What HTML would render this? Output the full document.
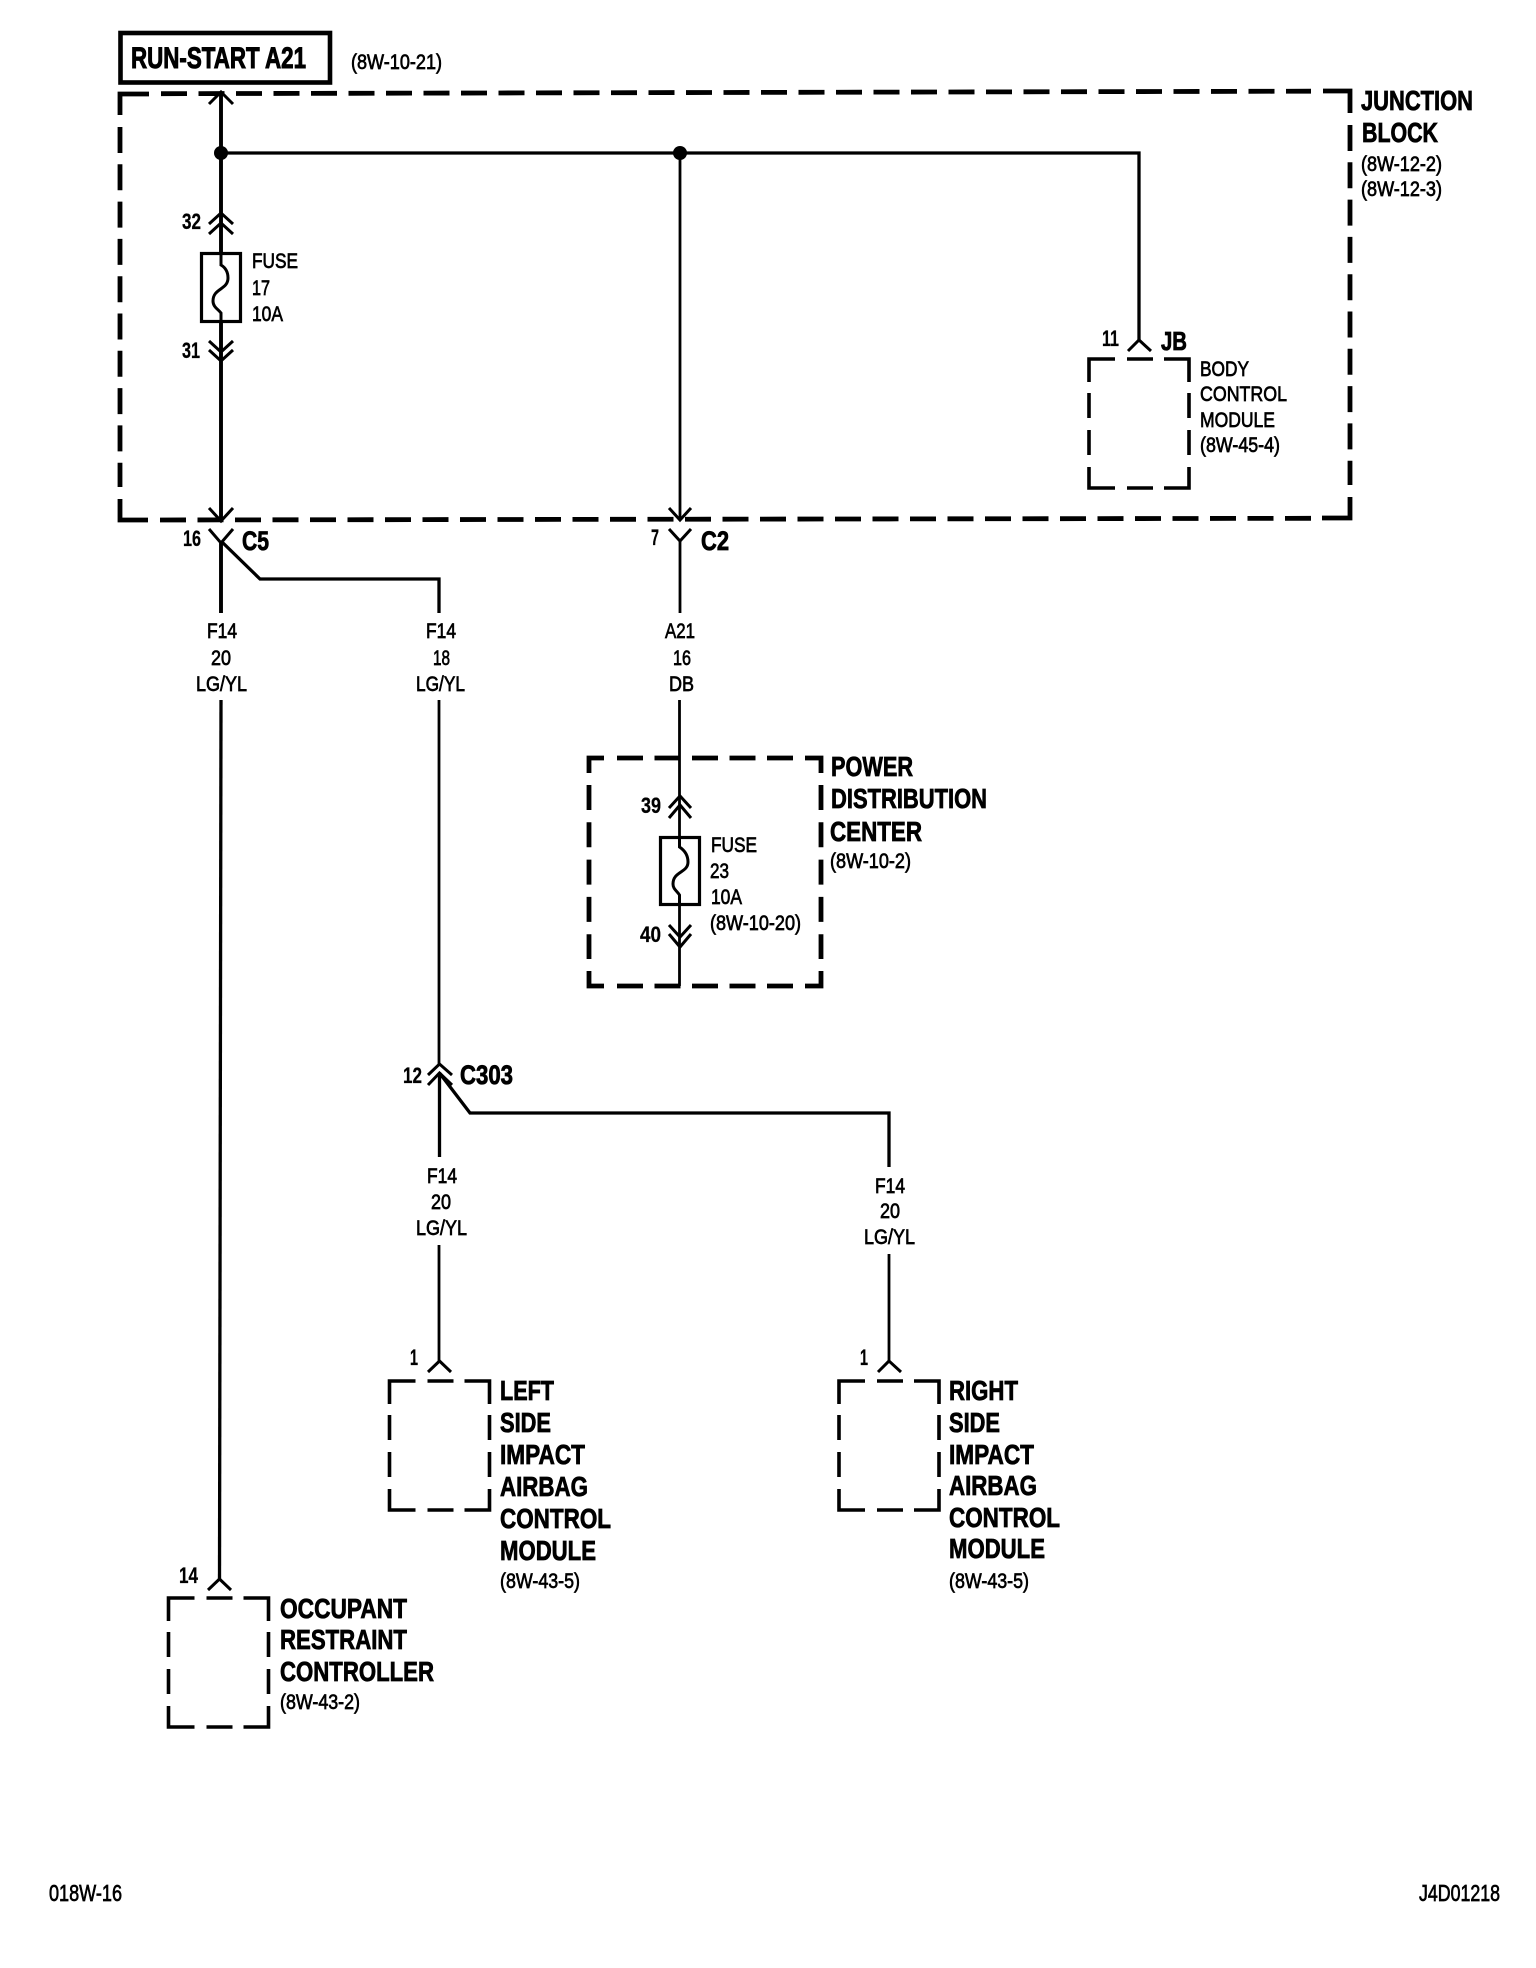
<!DOCTYPE html>
<html>
<head>
<meta charset="utf-8">
<style>
html,body{margin:0;padding:0;background:#fff;width:1536px;height:1968px;overflow:hidden}
svg{display:block}
text{font-family:"Liberation Sans",sans-serif;fill:#000;stroke:#000;stroke-width:.7px}
.b{font-weight:700;font-size:28px;stroke-width:.8px}
.r{font-size:21px}
.n{font-size:22px;font-weight:700;stroke-width:.3px}
.w{fill:none;stroke:#000;stroke-width:3.3}
.x{fill:none;stroke:#000;stroke-width:3.9}
.t{fill:none;stroke:#000;stroke-width:2.8}
.c{fill:none;stroke:#000;stroke-width:3}
.d{fill:none;stroke:#000;stroke-width:4.8}
.m{fill:none;stroke:#000;stroke-width:3.6}
</style>
</head>
<body>
<svg width="1536" height="1968" viewBox="0 0 1536 1968" xmlns="http://www.w3.org/2000/svg">
<defs>
<path id="mod" class="m" d="M0 23V0H26M38 0H64M75 0H100V23M0 34V59M0 71V96M0 108V129H26M38 129H64M75 129H100V108M100 34V59M100 71V96"/>
</defs>
<rect x="120.5" y="33" width="209.5" height="49.5" fill="none" stroke="#000" stroke-width="4.6"/>
<text class="b" x="131" y="68" style="font-size:30px;stroke-width:1px" textLength="175" lengthAdjust="spacingAndGlyphs">RUN-START A21</text>
<text class="r" x="351" y="69" textLength="91" lengthAdjust="spacingAndGlyphs">(8W-10-21)</text>

<!-- junction block dashed box -->
<path class="d" d="M120 115V94H149M1323 91H1350V113M120 499V520H148M1322 518H1350V497"/>
<path class="d" d="M161 93.7L1311 91.2M160 520L1311 518.3" stroke-dasharray="26 11.5"/>
<path class="d" d="M120 127V487M1350 125V485" stroke-dasharray="26 11.3"/>

<text class="b" x="1361" y="110" textLength="112" lengthAdjust="spacingAndGlyphs">JUNCTION</text>
<text class="b" x="1362" y="142" textLength="76" lengthAdjust="spacingAndGlyphs">BLOCK</text>
<text class="r" x="1361" y="171" textLength="81" lengthAdjust="spacingAndGlyphs">(8W-12-2)</text>
<text class="r" x="1361" y="196" textLength="81" lengthAdjust="spacingAndGlyphs">(8W-12-3)</text>

<!-- main feed -->
<path class="x" d="M221 94V252M221 323V521"/>
<path class="c" d="M209 104L221 92L233 104"/>
<circle cx="221" cy="153" r="7"/>
<circle cx="680" cy="153" r="7"/>
<path class="w" d="M221 153H1139V340"/>
<path class="t" d="M680 153V519"/>

<!-- fuse 17 -->
<path class="c" d="M209 224L221 213L233 224M209 234L221 223L233 234"/>
<rect x="201.5" y="253.5" width="39" height="68" fill="#fff" stroke="#000" stroke-width="3.2"/>
<path class="c" d="M221 253V265C226 268 228 272 228 278C228 290 213 288 213 301C213 307 218 309 221 313V322"/>
<path class="c" d="M209 341L221 352L233 341M209 350L221 361L233 350"/>
<text class="n" x="182" y="229" textLength="19" lengthAdjust="spacingAndGlyphs">32</text>
<text class="n" x="182" y="358" textLength="18" lengthAdjust="spacingAndGlyphs">31</text>
<text class="r" x="252" y="268" textLength="46" lengthAdjust="spacingAndGlyphs">FUSE</text>
<text class="r" x="252" y="295" textLength="18" lengthAdjust="spacingAndGlyphs">17</text>
<text class="r" x="252" y="321" textLength="31" lengthAdjust="spacingAndGlyphs">10A</text>

<!-- BCM -->
<path class="c" d="M1128 351L1139 340L1151 351"/>
<use href="#mod" x="1089" y="359"/>
<text class="n" x="1102" y="346" textLength="17" lengthAdjust="spacingAndGlyphs">11</text>
<text class="b" x="1161" y="350" style="font-size:26px" textLength="26" lengthAdjust="spacingAndGlyphs">JB</text>
<text class="r" x="1200" y="376" textLength="49" lengthAdjust="spacingAndGlyphs">BODY</text>
<text class="r" x="1200" y="401" textLength="87" lengthAdjust="spacingAndGlyphs">CONTROL</text>
<text class="r" x="1200" y="427" textLength="75" lengthAdjust="spacingAndGlyphs">MODULE</text>
<text class="r" x="1200" y="452" textLength="80" lengthAdjust="spacingAndGlyphs">(8W-45-4)</text>

<!-- C5 / C2 connectors -->
<path class="c" d="M209 508L221 521L233 508M209 529L221 543L233 529"/>
<path class="c" d="M669 508L680 520L691 508M669 529L680 541L691 529"/>
<path class="x" d="M221 541V613"/>
<path class="w" d="M221 541L260 579H439V613"/>
<path class="t" d="M680 541V613"/>
<text class="n" x="183" y="546" textLength="18" lengthAdjust="spacingAndGlyphs">16</text>
<text class="n" x="651" y="545" textLength="8" lengthAdjust="spacingAndGlyphs">7</text>
<text class="b" x="242" y="550" style="font-size:27px" textLength="27" lengthAdjust="spacingAndGlyphs">C5</text>
<text class="b" x="701" y="550" style="font-size:27px" textLength="28" lengthAdjust="spacingAndGlyphs">C2</text>

<text class="r" x="207" y="638" textLength="30" lengthAdjust="spacingAndGlyphs">F14</text>
<text class="r" x="211" y="665" textLength="20" lengthAdjust="spacingAndGlyphs">20</text>
<text class="r" x="196" y="691" textLength="51" lengthAdjust="spacingAndGlyphs">LG/YL</text>
<text class="r" x="426" y="638" textLength="30" lengthAdjust="spacingAndGlyphs">F14</text>
<text class="r" x="433" y="665" textLength="17" lengthAdjust="spacingAndGlyphs">18</text>
<text class="r" x="416" y="691" textLength="49" lengthAdjust="spacingAndGlyphs">LG/YL</text>
<text class="r" x="665" y="638" textLength="30" lengthAdjust="spacingAndGlyphs">A21</text>
<text class="r" x="673" y="665" textLength="18" lengthAdjust="spacingAndGlyphs">16</text>
<text class="r" x="669" y="691" textLength="25" lengthAdjust="spacingAndGlyphs">DB</text>

<!-- wires continuing -->
<path class="w" d="M221 700L219.5 1579"/>
<path class="t" d="M439 700V1064"/>
<path class="t" d="M679.5 700V986"/>

<!-- PDC box -->
<path class="d" d="M589 773V758H604M805 758H821V773M589 971V986H604M805 986H821V971"/>
<path class="d" d="M617 758H793M617 986H793" stroke-dasharray="26 11.5"/>
<path class="d" d="M589 785V959M821 785V959" stroke-dasharray="25 12.3"/>
<path class="c" d="M669 808L680 796L691 808M669 818L680 805L691 818"/>
<rect x="660.5" y="837.5" width="39" height="67" fill="#fff" stroke="#000" stroke-width="3.2"/>
<path class="c" d="M679.5 837V847C684 850 688 855 688 862C688 873 673 871 673 884C673 889 677 891 679.5 895V905"/>
<path class="c" d="M669 925L680 937L691 925M669 934L680 947L691 934"/>
<text class="n" x="641" y="813" textLength="20" lengthAdjust="spacingAndGlyphs">39</text>
<text class="n" x="640" y="942" textLength="21" lengthAdjust="spacingAndGlyphs">40</text>
<text class="r" x="711" y="852" textLength="46" lengthAdjust="spacingAndGlyphs">FUSE</text>
<text class="r" x="710" y="878" textLength="19" lengthAdjust="spacingAndGlyphs">23</text>
<text class="r" x="711" y="904" textLength="31" lengthAdjust="spacingAndGlyphs">10A</text>
<text class="r" x="710" y="930" textLength="91" lengthAdjust="spacingAndGlyphs">(8W-10-20)</text>
<text class="b" x="831" y="776" textLength="82" lengthAdjust="spacingAndGlyphs">POWER</text>
<text class="b" x="831" y="808" textLength="156" lengthAdjust="spacingAndGlyphs">DISTRIBUTION</text>
<text class="b" x="830" y="841" textLength="92" lengthAdjust="spacingAndGlyphs">CENTER</text>
<text class="r" x="830" y="868" textLength="81" lengthAdjust="spacingAndGlyphs">(8W-10-2)</text>

<!-- C303 -->
<path class="c" d="M428 1075L439.5 1064L452 1075M428 1085L439.5 1073L452 1085"/>
<path class="w" d="M439.5 1073V1157M439.5 1073L470 1113H889V1167"/>
<text class="n" x="403" y="1083" textLength="19" lengthAdjust="spacingAndGlyphs">12</text>
<text class="b" x="460" y="1084" style="font-size:27px" textLength="53" lengthAdjust="spacingAndGlyphs">C303</text>
<text class="r" x="427" y="1183" textLength="30" lengthAdjust="spacingAndGlyphs">F14</text>
<text class="r" x="431" y="1209" textLength="20" lengthAdjust="spacingAndGlyphs">20</text>
<text class="r" x="416" y="1235" textLength="51" lengthAdjust="spacingAndGlyphs">LG/YL</text>
<text class="r" x="875" y="1193" textLength="30" lengthAdjust="spacingAndGlyphs">F14</text>
<text class="r" x="880" y="1218" textLength="20" lengthAdjust="spacingAndGlyphs">20</text>
<text class="r" x="864" y="1244" textLength="51" lengthAdjust="spacingAndGlyphs">LG/YL</text>
<path class="t" d="M439 1245V1361M889 1254V1361"/>

<!-- left side module -->
<path class="c" d="M428 1372L439.5 1361L451 1372"/>
<use href="#mod" x="389.5" y="1381"/>
<text class="n" x="410" y="1365" textLength="8" lengthAdjust="spacingAndGlyphs">1</text>
<text class="b" x="500" y="1400" textLength="54" lengthAdjust="spacingAndGlyphs">LEFT</text>
<text class="b" x="500" y="1432" textLength="51" lengthAdjust="spacingAndGlyphs">SIDE</text>
<text class="b" x="500" y="1464" textLength="85" lengthAdjust="spacingAndGlyphs">IMPACT</text>
<text class="b" x="500" y="1496" textLength="88" lengthAdjust="spacingAndGlyphs">AIRBAG</text>
<text class="b" x="500" y="1528" textLength="111" lengthAdjust="spacingAndGlyphs">CONTROL</text>
<text class="b" x="500" y="1560" textLength="96" lengthAdjust="spacingAndGlyphs">MODULE</text>
<text class="r" x="500" y="1588" textLength="80" lengthAdjust="spacingAndGlyphs">(8W-43-5)</text>

<!-- right side module -->
<path class="c" d="M878 1372L889 1361L901 1372"/>
<use href="#mod" x="839" y="1381"/>
<text class="n" x="860" y="1365" textLength="8" lengthAdjust="spacingAndGlyphs">1</text>
<text class="b" x="949" y="1400" textLength="69" lengthAdjust="spacingAndGlyphs">RIGHT</text>
<text class="b" x="949" y="1432" textLength="51" lengthAdjust="spacingAndGlyphs">SIDE</text>
<text class="b" x="949" y="1464" textLength="85" lengthAdjust="spacingAndGlyphs">IMPACT</text>
<text class="b" x="949" y="1495" textLength="88" lengthAdjust="spacingAndGlyphs">AIRBAG</text>
<text class="b" x="949" y="1527" textLength="111" lengthAdjust="spacingAndGlyphs">CONTROL</text>
<text class="b" x="949" y="1558" textLength="96" lengthAdjust="spacingAndGlyphs">MODULE</text>
<text class="r" x="949" y="1588" textLength="80" lengthAdjust="spacingAndGlyphs">(8W-43-5)</text>

<!-- occupant restraint controller -->
<path class="c" d="M208 1590L219.5 1579L231 1590"/>
<use href="#mod" x="168.5" y="1598"/>
<text class="n" x="179" y="1583" textLength="19" lengthAdjust="spacingAndGlyphs">14</text>
<text class="b" x="280" y="1618" textLength="127" lengthAdjust="spacingAndGlyphs">OCCUPANT</text>
<text class="b" x="280" y="1649" textLength="127" lengthAdjust="spacingAndGlyphs">RESTRAINT</text>
<text class="b" x="280" y="1681" textLength="154" lengthAdjust="spacingAndGlyphs">CONTROLLER</text>
<text class="r" x="280" y="1709" textLength="80" lengthAdjust="spacingAndGlyphs">(8W-43-2)</text>

<!-- footer -->
<text class="r" x="49" y="1901" style="font-size:23px" textLength="73" lengthAdjust="spacingAndGlyphs">018W-16</text>
<text class="r" x="1419" y="1901" style="font-size:23px" textLength="81" lengthAdjust="spacingAndGlyphs">J4D01218</text>
</svg>
</body>
</html>
